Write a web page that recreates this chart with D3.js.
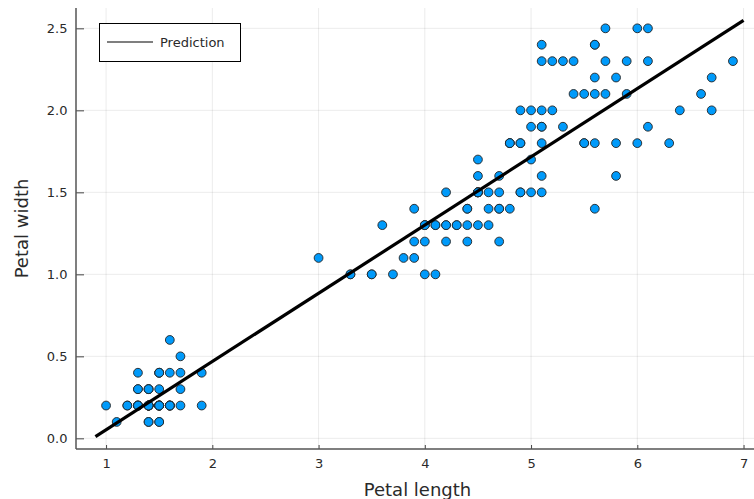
<!DOCTYPE html>
<html><head><meta charset="utf-8">
<script src="https://cdn.jsdelivr.net/npm/d3@7"></script>
<style>body{margin:0;background:#fff;} svg{display:block;font-family:"DejaVu Sans",sans-serif;}</style>
</head><body><svg id="c" width="754" height="499"></svg>
<script>
const petalLength = [1.4,1.4,1.3,1.5,1.4,1.7,1.4,1.5,1.4,1.5,1.5,1.6,1.4,1.1,1.2,1.5,1.3,1.4,1.7,1.5,1.7,1.5,1.0,1.7,1.9,1.6,1.6,1.5,1.4,1.6,1.6,1.5,1.5,1.4,1.5,1.2,1.3,1.4,1.3,1.5,1.3,1.3,1.3,1.6,1.9,1.4,1.6,1.4,1.5,1.4,
4.7,4.5,4.9,4.0,4.6,4.5,4.7,3.3,4.6,3.9,3.5,4.2,4.0,4.7,3.6,4.4,4.5,4.1,4.5,3.9,4.8,4.0,4.9,4.7,4.3,4.4,4.8,5.0,4.5,3.5,3.8,3.7,3.9,5.1,4.5,4.5,4.7,4.4,4.1,4.0,4.4,4.6,4.0,3.3,4.2,4.2,4.2,4.3,3.0,4.1,
6.0,5.1,5.9,5.6,5.8,6.6,4.5,6.3,5.8,6.1,5.1,5.3,5.5,5.0,5.1,5.3,5.5,6.7,6.9,5.0,5.7,4.9,6.7,4.9,5.7,6.0,4.8,4.9,5.6,5.8,6.1,6.4,5.6,5.1,5.6,6.1,5.6,5.5,4.8,5.4,5.6,5.1,5.1,5.9,5.7,5.2,5.0,5.2,5.4,5.1];
const petalWidth = [0.2,0.2,0.2,0.2,0.2,0.4,0.3,0.2,0.2,0.1,0.2,0.2,0.1,0.1,0.2,0.4,0.4,0.3,0.3,0.3,0.2,0.4,0.2,0.5,0.2,0.2,0.4,0.2,0.2,0.2,0.2,0.4,0.1,0.2,0.2,0.2,0.2,0.1,0.2,0.2,0.3,0.3,0.2,0.6,0.4,0.3,0.2,0.2,0.2,0.2,
1.4,1.5,1.5,1.3,1.5,1.3,1.6,1.0,1.3,1.4,1.0,1.5,1.0,1.4,1.3,1.4,1.5,1.0,1.5,1.1,1.8,1.3,1.5,1.2,1.3,1.4,1.4,1.7,1.5,1.0,1.1,1.0,1.2,1.6,1.5,1.6,1.5,1.3,1.3,1.3,1.2,1.4,1.2,1.0,1.3,1.2,1.3,1.3,1.1,1.3,
2.5,1.9,2.1,1.8,2.2,2.1,1.7,1.8,1.8,2.5,2.0,1.9,2.1,2.0,2.4,2.3,1.8,2.2,2.3,1.5,2.3,2.0,2.0,1.8,2.1,1.8,1.8,1.8,2.1,1.6,1.9,2.0,2.2,1.5,1.4,2.3,2.4,1.8,1.8,2.1,2.4,2.3,1.9,2.3,2.5,2.3,1.9,2.0,2.3,1.8];
const predictionX = [0.9, 7.0];
const predictionY = [0.011, 2.548];
const xTicks = [1,2,3,4,5,6,7];
const yTicks = [0.0,0.5,1.0,1.5,2.0,2.5];

const svg = d3.select("#c");
const L = 76, R = 763, T = 8, B = 449;
const x = d3.scaleLinear().domain([0.717, 7.183]).range([L, R]);
const y = d3.scaleLinear().domain([-0.065, 2.624]).range([B, T]);

// grid
const g = svg.append("g");
g.selectAll(".gx").data(xTicks).join("line")
  .attr("x1", d=>x(d)).attr("x2", d=>x(d)).attr("y1", T).attr("y2", B)
  .attr("stroke", "#000").attr("stroke-opacity", 0.08).attr("stroke-width", 1);
g.selectAll(".gy").data(yTicks).join("line")
  .attr("x1", L).attr("x2", R).attr("y1", d=>y(d)).attr("y2", d=>y(d))
  .attr("stroke", "#000").attr("stroke-opacity", 0.08).attr("stroke-width", 1);

// axes
const xAxis = d3.axisBottom(x).tickValues(xTicks).tickFormat(d3.format("d")).tickSize(-4).tickPadding(10);
const yAxis = d3.axisLeft(y).tickValues(yTicks).tickFormat(d3.format(".1f")).tickSize(-8).tickPadding(8);
const gx = svg.append("g").attr("transform", `translate(0,${B})`).call(xAxis);
const gy = svg.append("g").attr("transform", `translate(${L},0)`).call(yAxis);
[gx, gy].forEach(a => {
  a.select(".domain").remove();
  a.selectAll(".tick line").attr("stroke", "#444").attr("stroke-width", 1);
  a.selectAll(".tick text").attr("fill", "#2a2a2a").style("font-size", "13px").style("font-family", "DejaVu Sans");
});
gy.selectAll(".tick text").attr("dx", "-0.5");
svg.append("line").attr("x1", L).attr("x2", R).attr("y1", B).attr("y2", B).attr("stroke", "#555").attr("stroke-width", 1.5);
svg.append("line").attr("x1", L).attr("x2", L).attr("y1", T).attr("y2", B).attr("stroke", "#555").attr("stroke-width", 1.5);

// points
const pts = petalLength.map((v,i)=>({x:v, y:petalWidth[i]}));
svg.append("g").selectAll("circle").data(pts).join("circle")
  .attr("cx", d=>x(d.x)).attr("cy", d=>y(d.y)).attr("r", 4.4)
  .attr("fill", "#009AFA").attr("stroke", "#222").attr("stroke-width", 0.9);

// prediction line
const line = d3.line().x(d=>x(d[0])).y(d=>y(d[1]));
svg.append("path").datum(predictionX.map((v,i)=>[v, predictionY[i]]))
  .attr("d", line).attr("fill", "none").attr("stroke", "#000").attr("stroke-width", 3.2);

// axis labels
svg.append("text").attr("x", (L+R)/2 - 2).attr("y", 496).attr("text-anchor", "middle")
  .attr("fill", "#2a2a2a").style("font-size", "18px").text("Petal length");
svg.append("text").attr("transform", `translate(28,${(T+B)/2}) rotate(-90)`).attr("text-anchor", "middle")
  .attr("fill", "#2a2a2a").style("font-size", "18px").text("Petal width");

// legend
const lg = svg.append("g");
lg.append("rect").attr("x", 99.5).attr("y", 23.5).attr("width", 141).attr("height", 38)
  .attr("fill", "#fff").attr("stroke", "#000").attr("stroke-width", 1);
lg.append("line").attr("x1", 107).attr("x2", 153).attr("y1", 42).attr("y2", 42).attr("stroke", "#000").attr("stroke-width", 1.2);
lg.append("text").attr("x", 160).attr("y", 47).attr("fill", "#2a2a2a").style("font-size", "13px").text("Prediction");
</script></body></html>
